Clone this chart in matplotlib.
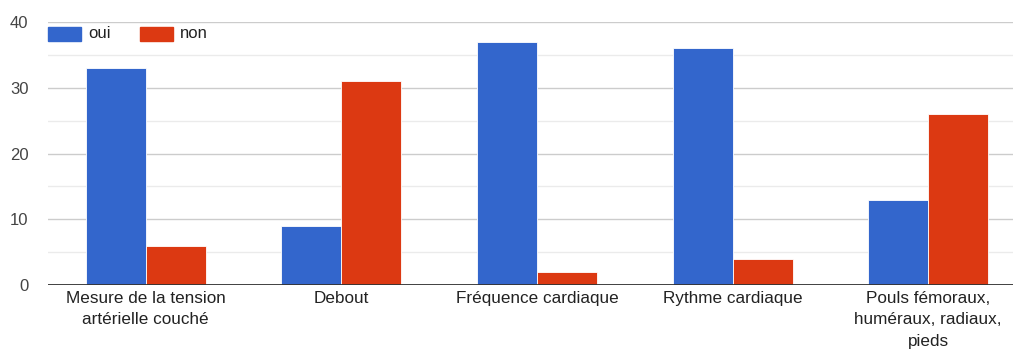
import numpy as np
import matplotlib.pyplot as plt
from matplotlib.patches import Rectangle

# Réponses par item de l'examen clinique
categories = ["Mesure de la tension\nartérielle couché", "Debout", "Fréquence cardiaque",
              "Rythme cardiaque", "Pouls fémoraux,\nhuméraux, radiaux,\npieds"]
oui = [33, 9, 37, 36, 13]
non = [6, 31, 2, 4, 26]

blue = "#3366cc"
red = "#dc3912"

plt.rcParams["font.family"] = ["Liberation Sans", "DejaVu Sans"]

fig = plt.figure(figsize=(10.13, 3.5), dpi=100)
# la zone de tracé dépasse un peu à droite, comme le graphique d'origine
ax = fig.add_axes([48 / 1013, 65 / 350, 978 / 1013, 263 / 350])

x = np.arange(len(categories))
w = 0.307
ax.bar(x - w / 2, oui, w, color=blue, edgecolor="white", linewidth=0.6, zorder=3)
ax.bar(x + w / 2, non, w, color=red, edgecolor="white", linewidth=0.6, zorder=3)

ax.set_xlim(-0.5, len(categories) - 0.5)
ax.set_ylim(0, 40)
ax.set_yticks([0, 10, 20, 30, 40])
ax.set_yticks([5, 15, 25, 35], minor=True)
ax.grid(axis="y", which="major", color="#cccccc", linewidth=1, zorder=0)
ax.grid(axis="y", which="minor", color="#ebebeb", linewidth=1, zorder=0)
ax.axhline(0, color="#333333", linewidth=1.3, zorder=4)

ax.set_xticks(x)
ax.set_xticklabels(categories, fontsize=12.3, color="#222222", linespacing=1.55)
ax.tick_params(axis="x", length=0, pad=4)
ax.tick_params(axis="y", which="both", length=0, labelsize=12, labelcolor="#444444", pad=14)

for s in ax.spines.values():
    s.set_visible(False)

# Légende en haut à gauche
for lx, col, lab in [(48, blue, "oui"), (140, red, "non")]:
    fig.patches.append(Rectangle((lx / 1013, 1 - 41 / 350), 33 / 1013, 14 / 350,
                                 transform=fig.transFigure, color=col, figure=fig))
    fig.text((lx + 40) / 1013, 1 - 34 / 350, lab, fontsize=12, color="#222222", va="center")

fig.savefig("out.png", dpi=100)
